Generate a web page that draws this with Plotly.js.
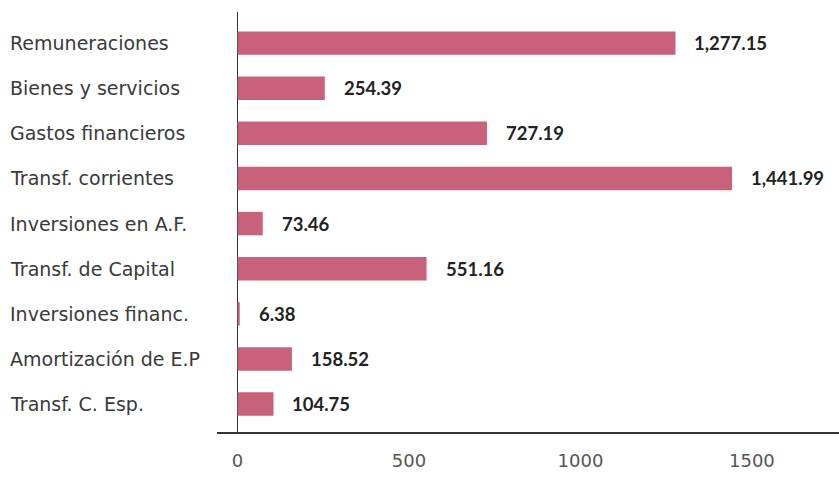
<!DOCTYPE html>
<html><head><meta charset="utf-8">
<script src="https://cdn.plot.ly/plotly-3.0.1.min.js"></script>
<style>html,body{margin:0;padding:0;background:#fff}#chart{width:839px;height:478px}</style>
</head><body><div id="chart"></div>
<script>
const categories = ["Remuneraciones","Bienes y servicios","Gastos financieros","Transf. corrientes","Inversiones en A.F.","Transf. de Capital","Inversiones financ.","Amortización de E.P","Transf. C. Esp."];
const values = [1277.15, 254.39, 727.19, 1441.99, 73.46, 551.16, 6.38, 158.52, 104.75];
const xTicks = [0, 500, 1000, 1500];

const CAT_FONT = "DejaVu Sans, sans-serif";
const VAL_FONT = "Lato, Liberation Sans, sans-serif";
const fmt = v => v.toLocaleString("en-US",{minimumFractionDigits:2,maximumFractionDigits:2});

const trace = {
  type: "bar", orientation: "h",
  x: values, y: categories,
  marker: {color: "#c8627a"},
  width: 0.52,
  hoverinfo: "none"
};

const annotations = [];
categories.forEach((c,i)=>{
  annotations.push({x: values[i], y: c, xref:"x", yref:"y", text: fmt(values[i]),
    showarrow:false, xanchor:"left", xshift: 17,
    font:{family:VAL_FONT, size:18.5, color:"#222", weight:"bold"}});
  annotations.push({x: 0, y: c, xref:"paper", yref:"y", text: c,
    showarrow:false, xanchor:"left", xshift: -209,
    font:{family:CAT_FONT, size:19, color:"#3a3a3a"}});
});

const layout = {
  width: 839, height: 478,
  margin: {l:217, r:0, t:12, b:46},
  paper_bgcolor:"#fff", plot_bgcolor:"#fff",
  showlegend:false,
  xaxis: {range:[-60,1754], tickvals: xTicks, ticktext: xTicks.map(String),
    showgrid:false, zeroline:true, zerolinecolor:"#333", zerolinewidth:1.5,
    showline:true, linecolor:"#333", linewidth:1.5, ticks:"", ticklabelstandoff: 12,
    tickfont:{family:CAT_FONT, size:18, color:"#555"}},
  yaxis: {type:"category", categoryorder:"array", categoryarray: categories,
    range:[8.62,-0.69], showticklabels:false, showgrid:false, zeroline:false, showline:false, ticks:""},
  annotations: annotations
};
Plotly.newPlot("chart",[trace],layout,{staticPlot:true,displayModeBar:false});
</script></body></html>
